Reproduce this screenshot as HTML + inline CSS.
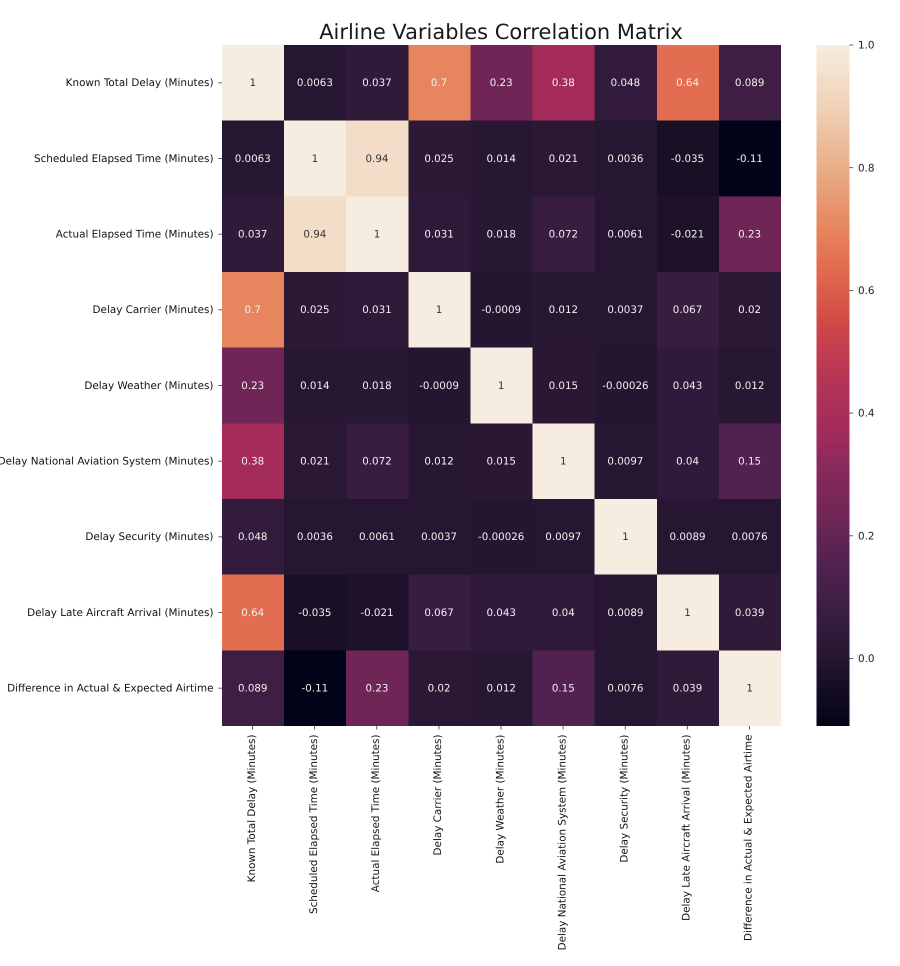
<!DOCTYPE html>
<html lang="en">
<head>
<meta charset="utf-8">
<title>Airline Variables Correlation Matrix</title>
<style>
  html, body { margin: 0; padding: 0; background: #fff; width: 900px; height: 966px; overflow: hidden; }
  svg { display: block; }
  text { font-family: "DejaVu Sans", "Liberation Sans", sans-serif; text-rendering: geometricPrecision; }
</style>
</head>
<body>
<svg id="chart" xmlns="http://www.w3.org/2000/svg" width="900" height="966" viewBox="0 0 900 966">
  <text x="501" y="39" text-anchor="middle" font-size="20.95" fill="#1a1a1a" style="filter:blur(0.3px)">Airline Variables Correlation Matrix</text>
  <g id="cells"></g>
  <g id="annotations" style="filter:blur(0.35px)"></g>
  <g id="y-axis" style="filter:blur(0.3px)"></g>
  <g id="x-axis" style="filter:blur(0.3px)"></g>
  <g id="colorbar"></g>
</svg>
<script>
const categories = [
  "Known Total Delay (Minutes)",
  "Scheduled Elapsed Time (Minutes)",
  "Actual Elapsed Time (Minutes)",
  "Delay Carrier (Minutes)",
  "Delay Weather (Minutes)",
  "Delay National Aviation System (Minutes)",
  "Delay Security (Minutes)",
  "Delay Late Aircraft Arrival (Minutes)",
  "Difference in Actual & Expected Airtime"
];
const row0 = [1, 0.0063, 0.037, 0.7, 0.23, 0.38, 0.048, 0.64, 0.089];
const row1 = [0.0063, 1, 0.94, 0.025, 0.014, 0.021, 0.0036, -0.035, -0.11];
const row2 = [0.037, 0.94, 1, 0.031, 0.018, 0.072, 0.0061, -0.021, 0.23];
const row3 = [0.7, 0.025, 0.031, 1, -0.0009, 0.012, 0.0037, 0.067, 0.02];
const row4 = [0.23, 0.014, 0.018, -0.0009, 1, 0.015, -0.00026, 0.043, 0.012];
const row5 = [0.38, 0.021, 0.072, 0.012, 0.015, 1, 0.0097, 0.04, 0.15];
const row6 = [0.048, 0.0036, 0.0061, 0.0037, -0.00026, 0.0097, 1, 0.0089, 0.0076];
const row7 = [0.64, -0.035, -0.021, 0.067, 0.043, 0.04, 0.0089, 1, 0.039];
const row8 = [0.089, -0.11, 0.23, 0.02, 0.012, 0.15, 0.0076, 0.039, 1];
const matrix = [row0, row1, row2, row3, row4, row5, row6, row7, row8];
const colorbarTicks = [1.0, 0.8, 0.6, 0.4, 0.2, 0.0];
const colorMin = -0.11;
const colorMax = 1.0;

const NS = "http://www.w3.org/2000/svg";
const plotLeft = 222, plotRight = 781, plotTop = 45, plotBottom = 726;
const barLeft = 816.5, barRight = 849.5;
const ramp = [
  [0.000, 2, 3, 24], [0.068, 26, 16, 38], [0.099, 36, 21, 48], [0.117, 42, 24, 52],
  [0.144, 50, 27, 62], [0.189, 65, 32, 69], [0.234, 81, 34, 80], [0.279, 99, 37, 83],
  [0.306, 111, 38, 86], [0.369, 134, 40, 91], [0.441, 165, 44, 90], [0.505, 179, 53, 86],
  [0.550, 194, 61, 80], [0.595, 208, 74, 71], [0.640, 220, 94, 73], [0.676, 226, 109, 80],
  [0.730, 231, 133, 94], [0.820, 233, 174, 136], [0.910, 241, 210, 184], [1.000, 246, 236, 223]
];

function xScale(i) { return plotLeft + (plotRight - plotLeft) * i / categories.length; }
function yScale(i) { return plotTop + (plotBottom - plotTop) * i / categories.length; }
function barScale(v) { return plotBottom - (plotBottom - plotTop) * (v - colorMin) / (colorMax - colorMin); }
function norm(v) { return Math.min(1, Math.max(0, (v - colorMin) / (colorMax - colorMin))); }
function colorRgb(v) {
  const t = norm(v);
  for (let k = 1; k < ramp.length; k++) {
    if (t <= ramp[k][0]) {
      const a = ramp[k - 1], b = ramp[k];
      const f = (t - a[0]) / (b[0] - a[0]);
      return [a[1] + (b[1] - a[1]) * f, a[2] + (b[2] - a[2]) * f, a[3] + (b[3] - a[3]) * f];
    }
  }
  return ramp[ramp.length - 1].slice(1);
}
function css(c) { return "rgb(" + c.map(Math.round).join(",") + ")"; }
function luminance(c) {
  const l = c.map(function (x) {
    const s = x / 255;
    return s <= 0.03928 ? s / 12.92 : Math.pow((s + 0.055) / 1.055, 2.4);
  });
  return 0.2126 * l[0] + 0.7152 * l[1] + 0.0722 * l[2];
}
function fmt(v) { return String(Number(v.toPrecision(2))); }
function make(tag, parent, attrs) {
  const el = document.createElementNS(NS, tag);
  Object.keys(attrs).forEach(function (k) { el.setAttribute(k, attrs[k]); });
  parent.appendChild(el);
  return el;
}

const cellsG = document.getElementById("cells");
const annG = document.getElementById("annotations");
const yG = document.getElementById("y-axis");
const xG = document.getElementById("x-axis");
const barG = document.getElementById("colorbar");

matrix.forEach(function (row, r) {
  row.forEach(function (v, c) {
    const col = colorRgb(v);
    const rect = make("rect", cellsG, {
      x: xScale(c), y: yScale(r),
      width: xScale(c + 1) - xScale(c), height: yScale(r + 1) - yScale(r),
      fill: css(col), "shape-rendering": "crispEdges"
    });
    
    
    const txt = make("text", annG, {
      x: (xScale(c) + xScale(c + 1)) / 2 - 0.3, y: (yScale(r) + yScale(r + 1)) / 2 + 3.4,
      "text-anchor": "middle", "font-size": 10.3,
      fill: luminance(col) < 0.408 ? "#f4f0f0" : "#333333"
    });
    
    
    txt.textContent = fmt(v);
  });
});

categories.forEach(function (name, i) {
  const cy = (yScale(i) + yScale(i + 1)) / 2;
  const cx = (xScale(i) + xScale(i + 1)) / 2;

  const yTick = make("line", yG, { x1: plotLeft - 3.5, x2: plotLeft, y1: cy, y2: cy, stroke: "#333", "stroke-width": 0.8 });
  
  
  const yLabel = make("text", yG, { x: 213.5, y: cy + 3.4, "text-anchor": "end", "font-size": 10.4, fill: "#111" });
  
  
  yLabel.textContent = name;

  const xTick = make("line", xG, { x1: cx - 0.5, x2: cx - 0.5, y1: plotBottom, y2: plotBottom + 3.5, stroke: "#333", "stroke-width": 0.8 });
  
  
  const xLabel = make("text", xG, {
    transform: "translate(" + (cx + 1.8) + "," + (plotBottom + 8.5) + ") rotate(-90)",
    "text-anchor": "end", "font-size": 10.4, fill: "#111"
  });
  
  
  xLabel.textContent = name;
});

const barSteps = plotBottom - plotTop;
for (let p = 0; p < barSteps; p++) {
  const value = colorMax - (colorMax - colorMin) * (p + 0.5) / barSteps;
  const seg = make("rect", barG, {
    x: barLeft, y: plotTop + p, width: barRight - barLeft, height: 1.2,
    fill: css(colorRgb(value)), "shape-rendering": "crispEdges"
  });
  
  
}
colorbarTicks.forEach(function (v) {
  const y = barScale(v);
  const tick = make("line", barG, { x1: barRight, x2: barRight + 3.5, y1: y, y2: y, stroke: "#333", "stroke-width": 0.8 });
  
  
  const label = make("text", barG, { x: 858, y: y + 3.6, "font-size": 10.4, fill: "#222", style: "filter:blur(0.3px)" });
  
  
  label.textContent = v.toFixed(1);
});
</script>
</body>
</html>
